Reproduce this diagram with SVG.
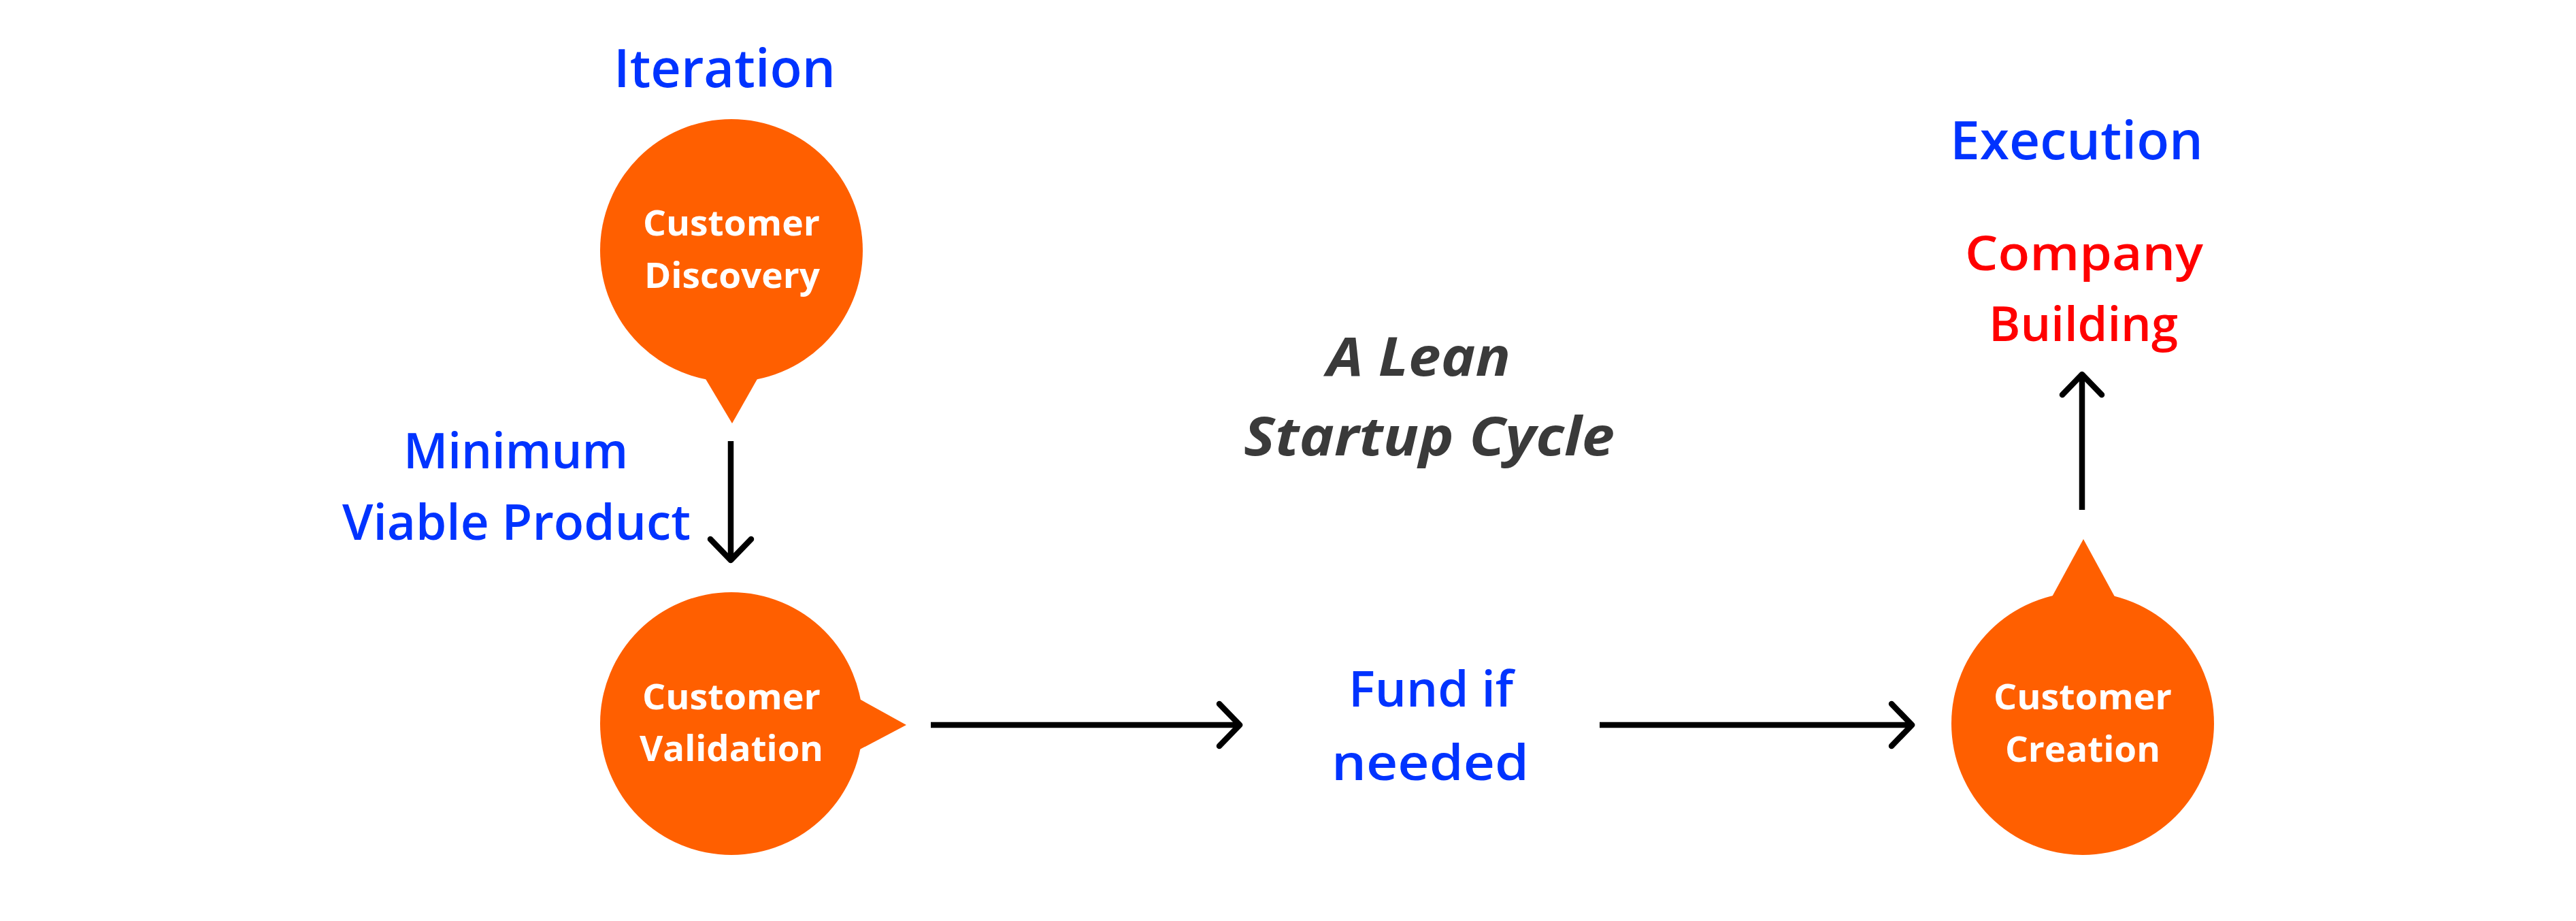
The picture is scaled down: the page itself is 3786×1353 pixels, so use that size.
<svg xmlns="http://www.w3.org/2000/svg" width="3786" height="1353" viewBox="0 0 3786 1353">
<style>
.bg{fill:#ffffff}
.bubble{fill:#FF5F00}
.lbl{font-family:"Open Sans","Noto Sans","DejaVu Sans",sans-serif;font-weight:600}
.blue{fill:#0033FF}
.red{fill:#FF0000}
.white{fill:#ffffff;font-family:"Open Sans","Noto Sans","DejaVu Sans",sans-serif;font-weight:700;font-size:52px}
.title{fill:#3A3A3A;font-family:"Open Sans","Noto Sans","DejaVu Sans",sans-serif;font-weight:700;font-style:italic;font-size:78px}
.line{stroke:#000;stroke-width:8.5;fill:none;stroke-linecap:butt}
.head{stroke:#000;stroke-width:8.5;fill:none;stroke-linecap:round;stroke-linejoin:round}
</style>
<rect class="bg" x="0" y="0" width="3786" height="1353"/>

<g id="label-iteration">
<text class="lbl blue" x="902" y="128" font-size="77" textLength="326" lengthAdjust="spacingAndGlyphs">Iteration</text>
</g>
<g id="label-execution">
<text class="lbl blue" x="2866" y="234" font-size="77" textLength="372" lengthAdjust="spacingAndGlyphs">Execution</text>
</g>
<g id="node-company-building">
<text class="lbl red" x="2888" y="397" font-size="70" textLength="350" lengthAdjust="spacingAndGlyphs">Company</text>
<text class="lbl red" x="2923" y="501" font-size="70" textLength="278" lengthAdjust="spacingAndGlyphs">Building</text>
</g>
<g id="label-mvp">
<text class="lbl blue" x="593" y="688" font-size="72" textLength="330" lengthAdjust="spacingAndGlyphs">Minimum</text>
<text class="lbl blue" x="503" y="793" font-size="72" textLength="512" lengthAdjust="spacingAndGlyphs">Viable Product</text>
</g>
<g id="label-fund">
<text class="lbl blue" x="1982" y="1038" font-size="72" textLength="242" lengthAdjust="spacingAndGlyphs">Fund if</text>
<text class="lbl blue" x="1957" y="1146" font-size="72" textLength="290" lengthAdjust="spacingAndGlyphs">needed</text>
</g>
<g id="title">
<text class="title" x="1950" y="552" textLength="270" lengthAdjust="spacingAndGlyphs">A Lean</text>
<text class="title" x="1828" y="669" textLength="545" lengthAdjust="spacingAndGlyphs">Startup Cycle</text>
</g>

<g id="node-customer-discovery">
<circle class="bubble" cx="1075" cy="368" r="193"/>
<polygon class="bubble" points="1036,555 1114,555 1076,622"/>
<text class="white" x="945" y="346" textLength="260" lengthAdjust="spacingAndGlyphs">Customer</text>
<text class="white" x="947" y="423" textLength="258" lengthAdjust="spacingAndGlyphs">Discovery</text>
</g>
<g id="node-customer-validation">
<circle class="bubble" cx="1075" cy="1063" r="193"/>
<polygon class="bubble" points="1258,1024 1258,1104 1332,1065"/>
<text class="white" x="944" y="1042" textLength="262" lengthAdjust="spacingAndGlyphs">Customer</text>
<text class="white" x="940" y="1118" textLength="270" lengthAdjust="spacingAndGlyphs">Validation</text>
</g>
<g id="node-customer-creation">
<circle class="bubble" cx="3061" cy="1063" r="193"/>
<polygon class="bubble" points="3013,882 3111,882 3062,792"/>
<text class="white" x="2930" y="1042" textLength="262" lengthAdjust="spacingAndGlyphs">Customer</text>
<text class="white" x="2947" y="1119" textLength="228" lengthAdjust="spacingAndGlyphs">Creation</text>
</g>

<g id="connectors">
<line class="line" x1="1074" y1="648" x2="1074" y2="820"/>
<polyline class="head" points="1044,792 1074,823 1104,792"/>
<line class="line" x1="1368" y1="1065" x2="1819" y2="1065"/>
<polyline class="head" points="1792,1034 1822,1065 1792,1096"/>
<line class="line" x1="2351" y1="1065" x2="2807" y2="1065"/>
<polyline class="head" points="2780,1034 2810,1065 2780,1096"/>
<line class="line" x1="3060" y1="749" x2="3060" y2="553"/>
<polyline class="head" points="3031,580 3060,550 3089,580"/>
</g>
</svg>
